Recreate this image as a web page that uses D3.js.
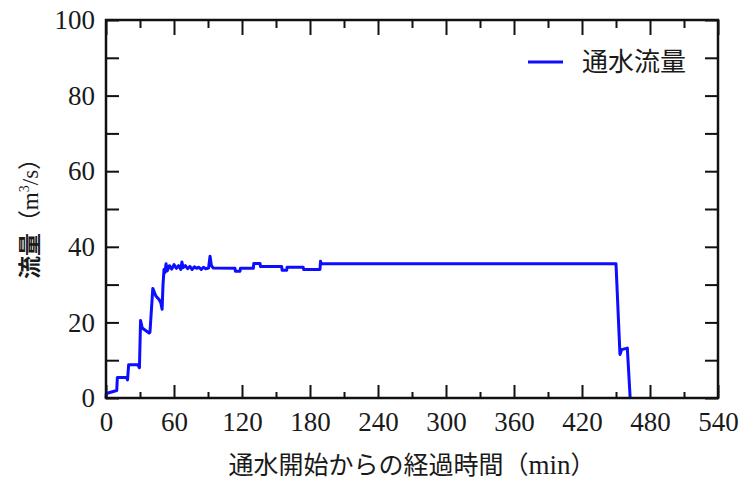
<!DOCTYPE html>
<html>
<head>
<meta charset="utf-8">
<script src="https://cdn.jsdelivr.net/npm/d3@7"></script>
<style>
  body { margin: 0; background: #fff; }
  svg { display: block; }
</style>
</head>
<body>
<div id="plot"></div>
<script>
var width = 747;
var height = 483;
var margin = { top: 20, right: 29, bottom: 85, left: 106 };

// elapsed time since water started (min) and flow (m3/s)
var time = [0, 0.3, 9.5, 10, 18, 19, 20, 28, 29.5, 30.5, 32, 38, 38.8, 41.3, 44, 47, 48.5, 49.5, 50.3, 51.2,
            52, 53, 54, 56, 58, 60, 62, 64, 66, 67, 68, 70, 72, 74, 76, 78, 80, 82, 84, 86, 88, 90.5, 91.8, 93, 94.7,
            113.8, 114.2, 118.2, 118.6, 130, 130.4, 135.9, 136.3, 155, 155.4, 159.4, 159.8, 174, 174.4, 188.8, 189.3, 190,
            450, 453.5, 455, 460, 462.5];
var flow = [0, 1.2, 2, 5.4, 5.5, 4.8, 8.8, 8.8, 8.0, 20.5, 18.5, 17.2, 17.4, 29, 27, 26, 25, 23.5, 30, 34,
            33.2, 35.5, 33.6, 35, 34.1, 35.3, 34.3, 35, 34, 36, 34.5, 35, 34.2, 34.8, 34, 34.7, 34.3, 34.6, 34, 34.6, 34.2, 34.4, 37.5, 35, 34.4,
            34.3, 33.5, 33.5, 34.3, 34.3, 35.6, 35.6, 34.8, 34.8, 33.8, 33.8, 34.6, 34.6, 34, 34, 36.2, 35.5,
            35.5, 11.5, 12.8, 13.2, 0];

var xTicks = [0, 60, 120, 180, 240, 300, 360, 420, 480, 540];
var xMinor = [30, 90, 150, 210, 270, 330, 390, 450, 510];
var yTicks = [0, 20, 40, 60, 80, 100];
var yMinor = [10, 30, 50, 70, 90];

var legendLabel = '通水流量';
var xLabel = '通水開始からの経過時間';
var yLabel = '流量';

var w = width - margin.left - margin.right;
var h = height - margin.top - margin.bottom;

var svg = d3.select('#plot')
    .append('svg')
    .attr('width', width)
    .attr('height', height);

var g = svg.append('g')
    .attr('transform', 'translate(' + margin.left + ',' + margin.top + ')');

var x = d3.scaleLinear().domain([0, 540]).range([0, w]);
var y = d3.scaleLinear().domain([0, 100]).range([h, 0]);

var serif = '"Liberation Serif", "Times New Roman", serif';
var cjk = '"Noto Sans CJK JP", sans-serif';

function styleAxis(sel) {
    sel.select('.domain').remove();
    sel.selectAll('line').attr('stroke', '#111').attr('stroke-width', 2);
    sel.selectAll('text').attr('fill', '#1a1a1a').style('font-family', serif).style('font-size', '27px');
}

// labelled axes
g.append('g')
    .attr('transform', 'translate(0,' + h + ')')
    .call(d3.axisBottom(x).tickValues(xTicks).tickSize(-13).tickPadding(14))
    .call(styleAxis);
g.append('g')
    .call(d3.axisLeft(y).tickValues(yTicks).tickSize(-13).tickPadding(11))
    .call(styleAxis);

// unlabelled + minor ticks
g.append('g')
    .attr('transform', 'translate(0,' + h + ')')
    .call(d3.axisBottom(x).tickValues(xMinor).tickSize(-6).tickFormat(''))
    .call(styleAxis);
g.append('g')
    .call(d3.axisTop(x).tickValues(xTicks).tickSize(-15).tickFormat(''))
    .call(styleAxis);
g.append('g')
    .call(d3.axisTop(x).tickValues(xMinor).tickSize(-8).tickFormat(''))
    .call(styleAxis);
g.append('g')
    .call(d3.axisLeft(y).tickValues(yMinor).tickSize(-13).tickFormat(''))
    .call(styleAxis);
g.append('g')
    .attr('transform', 'translate(' + w + ',0)')
    .call(d3.axisRight(y).tickValues(yTicks.concat(yMinor)).tickSize(-13).tickFormat(''))
    .call(styleAxis);

// data line
var data = time.map(function(t, i) { return { t: t, q: flow[i] }; });
var line = d3.line()
    .x(function(d) { return x(d.t); })
    .y(function(d) { return y(d.q); });

g.append('path')
    .datum(data)
    .attr('d', line)
    .attr('fill', 'none')
    .attr('stroke', '#0d0dff')
    .attr('stroke-width', 3)
    .attr('stroke-linejoin', 'round');

// frame
g.append('rect')
    .attr('width', w)
    .attr('height', h)
    .attr('fill', 'none')
    .attr('stroke', '#111')
    .attr('stroke-width', 2.5);

// legend
g.append('line')
    .attr('x1', 422).attr('x2', 457)
    .attr('y1', 42).attr('y2', 42)
    .attr('stroke', '#0d0dff')
    .attr('stroke-width', 3);
g.append('text')
    .attr('x', 476).attr('y', 51)
    .attr('fill', '#1a1a1a')
    .style('font-family', cjk)
    .style('font-size', '26px')
    .text(legendLabel);

// x label
var xl = svg.append('text')
    .attr('x', margin.left + w / 2)
    .attr('y', 474)
    .attr('text-anchor', 'middle')
    .attr('fill', '#1a1a1a')
    .style('font-family', cjk)
    .style('font-size', '25px');
xl.append('tspan').text(xLabel + '（');
xl.append('tspan').style('font-family', serif).style('font-size', '27px').text('min');
xl.append('tspan').text('）');

// y label
var yl = svg.append('text')
    .attr('transform', 'translate(38,' + (margin.top + h / 2 + 4) + ') rotate(-90)')
    .attr('text-anchor', 'middle')
    .attr('fill', '#1a1a1a')
    .style('font-family', cjk)
    .style('font-size', '23px');
yl.append('tspan').style('font-weight', 'bold').text(yLabel);
yl.append('tspan').text('（');
yl.append('tspan').style('font-family', serif).text('m');
yl.append('tspan').style('font-family', serif).style('font-size', '14px').attr('dy', -9).text('3');
yl.append('tspan').style('font-family', serif).attr('dy', 9).text('/s');
yl.append('tspan').text('）');
</script>
</body>
</html>
